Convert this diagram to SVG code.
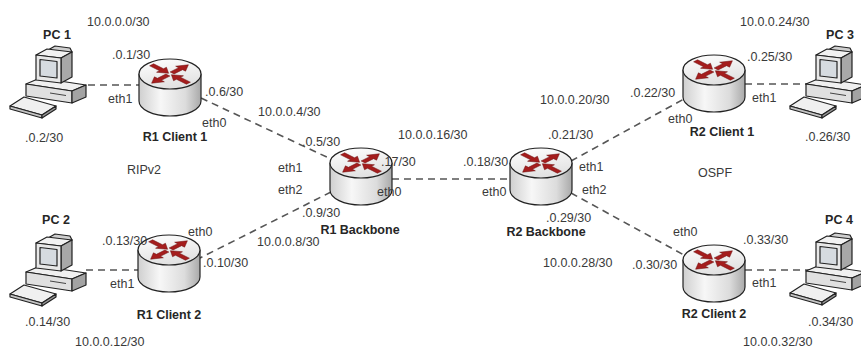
<svg xmlns="http://www.w3.org/2000/svg" xmlns:xlink="http://www.w3.org/1999/xlink" width="861" height="349" viewBox="0 0 861 349">
  <style>
    .lbl { font-family: "Liberation Sans", Arial, sans-serif; font-size: 12.5px; fill: #3a3a3a; }
    .name { font-family: "Liberation Sans", Arial, sans-serif; font-size: 12.5px; font-weight: bold; fill: #262626; }
    .link { stroke: #555; stroke-width: 1.6; stroke-dasharray: 7 5; fill: none; }
    .ol { stroke: #222; stroke-width: 1.2; stroke-linejoin: round; }
    .arrow { fill: #a51d1d; stroke: #6e1010; stroke-width: 0.6; }
  </style>
  <defs>
    <linearGradient id="bodyGrad" x1="0" y1="0" x2="1" y2="0">
      <stop offset="0" stop-color="#cfcfcf"/>
      <stop offset="0.35" stop-color="#f7f7f7"/>
      <stop offset="0.75" stop-color="#dcdcdc"/>
      <stop offset="1" stop-color="#a9a9a9"/>
    </linearGradient>
    <linearGradient id="topGrad" x1="0" y1="0" x2="0.3" y2="1">
      <stop offset="0" stop-color="#ffffff"/>
      <stop offset="1" stop-color="#e2e2e2"/>
    </linearGradient>

    <!-- router: cylinder with red arrows on the lid, origin at lid centre -->
    <g id="router">
      <path class="ol" d="M -31 0 L -31 27 A 31 15 0 0 0 31 27 L 31 0 Z" fill="url(#bodyGrad)"/>
      <ellipse class="ol" cx="0" cy="0" rx="31" ry="15" fill="url(#topGrad)"/>
      <g transform="scale(1,0.5)">
        <polygon class="arrow" transform="rotate(-45)" points="3,-2.8 15,-2.8 15,-7 26,0 15,7 15,2.8 3,2.8"/>
        <polygon class="arrow" transform="rotate(135)" points="3,-2.8 15,-2.8 15,-7 26,0 15,7 15,2.8 3,2.8"/>
        <polygon class="arrow" transform="rotate(-135)" points="2,0 12,-7 12,-2.8 26,-2.8 26,2.8 12,2.8 12,7"/>
        <polygon class="arrow" transform="rotate(45)" points="2,0 12,-7 12,-2.8 26,-2.8 26,2.8 12,2.8 12,7"/>
      </g>
    </g>

    <!-- desktop PC: case, monitor and keyboard -->
    <g id="pc">
      <polygon class="ol" points="26,84 40,78 86,85 72,91" fill="#f0f0f0"/>
      <polygon class="ol" points="26,84 72,91 72,103 26,96" fill="#e0e0e0"/>
      <polygon class="ol" points="72,91 86,85 86,97 72,103" fill="#a3a3a3"/>
      <line x1="50" y1="93" x2="66" y2="95.5" stroke="#444" stroke-width="1"/>
      <polygon class="ol" points="48,50 55,46 70,48 72,52 60,55" fill="#cfcfcf"/>
      <polygon class="ol" points="36,55 47,49 72,52 61,58" fill="#f2f2f2"/>
      <polygon class="ol" points="61,58 72,52 72,77 61,83" fill="#a8a8a8"/>
      <polygon class="ol" points="36,55 61,58 61,83 36,80" fill="#e8e8e8"/>
      <polygon class="ol" points="40,59.5 57,61.5 57,78 40,76" fill="#d6dbe0"/>
      <polygon class="ol" points="10,106 24,97 56,106 42,115" fill="#f0f0f0"/>
      <polygon class="ol" points="10,106 42,115 42,118 10,109" fill="#c4c4c4"/>
      <polygon class="ol" points="42,115 56,106 56,109 42,118" fill="#9a9a9a"/>
    </g>
  </defs>

  <rect width="861" height="349" fill="#ffffff"/>

  <!-- links -->
  <g id="connectors">
    <line class="link" x1="88" y1="85" x2="139" y2="85"/>
    <line class="link" x1="201" y1="98" x2="333" y2="160"/>
    <line class="link" x1="331" y1="192" x2="200" y2="258"/>
    <line class="link" x1="86" y1="270" x2="138" y2="270"/>
    <line class="link" x1="392" y1="179" x2="510" y2="179"/>
    <line class="link" x1="571" y1="161" x2="684" y2="99"/>
    <line class="link" x1="571" y1="193" x2="684" y2="255"/>
    <line class="link" x1="745" y1="84" x2="816" y2="84"/>
    <line class="link" x1="745" y1="270" x2="812" y2="270"/>
  </g>

  <!-- hosts -->
  <g id="pc1">
    <use xlink:href="#pc" href="#pc"/>
    <text class="name" x="57" y="39" text-anchor="middle">PC 1</text>
  </g>
  <g id="pc2">
    <use xlink:href="#pc" href="#pc" y="188"/>
    <text class="name" x="56" y="224" text-anchor="middle">PC 2</text>
  </g>
  <g id="pc3">
    <use xlink:href="#pc" href="#pc" x="780"/>
    <text class="name" x="840" y="39" text-anchor="middle">PC 3</text>
  </g>
  <g id="pc4">
    <use xlink:href="#pc" href="#pc" x="780" y="187"/>
    <text class="name" x="839" y="224" text-anchor="middle">PC 4</text>
  </g>

  <!-- routers -->
  <g id="r1-client1">
    <use xlink:href="#router" href="#router" transform="translate(170,74)"/>
    <text class="name" x="175" y="141" text-anchor="middle">R1 Client 1</text>
  </g>
  <g id="r1-client2">
    <use xlink:href="#router" href="#router" transform="translate(169,250)"/>
    <text class="name" x="169" y="319" text-anchor="middle">R1 Client 2</text>
  </g>
  <g id="r1-backbone">
    <use xlink:href="#router" href="#router" transform="translate(361,163)"/>
    <text class="name" x="360" y="234" text-anchor="middle">R1 Backbone</text>
  </g>
  <g id="r2-backbone">
    <use xlink:href="#router" href="#router" transform="translate(541,163)"/>
    <text class="name" x="546" y="236" text-anchor="middle">R2 Backbone</text>
  </g>
  <g id="r2-client1">
    <use xlink:href="#router" href="#router" transform="translate(714,70)"/>
    <text class="name" x="722" y="136" text-anchor="middle">R2 Client 1</text>
  </g>
  <g id="r2-client2">
    <use xlink:href="#router" href="#router" transform="translate(714,260)"/>
    <text class="name" x="714" y="318" text-anchor="middle">R2 Client 2</text>
  </g>

  <!-- addressing and interface labels -->
  <g id="labels">
    <text class="lbl" x="87" y="26">10.0.0.0/30</text>
    <text class="lbl" x="112" y="59">.0.1/30</text>
    <text class="lbl" x="108" y="103">eth1</text>
    <text class="lbl" x="205" y="96">.0.6/30</text>
    <text class="lbl" x="202" y="127">eth0</text>
    <text class="lbl" x="25" y="142">.0.2/30</text>
    <text class="lbl" x="127" y="174">RIPv2</text>
    <text class="lbl" x="258" y="116">10.0.0.4/30</text>
    <text class="lbl" x="302" y="146">.0.5/30</text>
    <text class="lbl" x="278" y="172">eth1</text>
    <text class="lbl" x="278" y="194">eth2</text>
    <text class="lbl" x="302" y="217">.0.9/30</text>
    <text class="lbl" x="257" y="246">10.0.0.8/30</text>
    <text class="lbl" x="188" y="236">eth0</text>
    <text class="lbl" x="102" y="245">.0.13/30</text>
    <text class="lbl" x="203" y="267">.0.10/30</text>
    <text class="lbl" x="110" y="288">eth1</text>
    <text class="lbl" x="25" y="326">.0.14/30</text>
    <text class="lbl" x="75" y="346">10.0.0.12/30</text>

    <text class="lbl" x="381" y="166">.17/30</text>
    <text class="lbl" x="377" y="196">eth0</text>
    <text class="lbl" x="398" y="139">10.0.0.16/30</text>
    <text class="lbl" x="463" y="166">.0.18/30</text>
    <text class="lbl" x="482" y="196">eth0</text>

    <text class="lbl" x="540" y="104">10.0.0.20/30</text>
    <text class="lbl" x="548" y="139">.0.21/30</text>
    <text class="lbl" x="579" y="171">eth1</text>
    <text class="lbl" x="582" y="194">eth2</text>
    <text class="lbl" x="546" y="222">.0.29/30</text>
    <text class="lbl" x="543" y="267">10.0.0.28/30</text>
    <text class="lbl" x="632" y="269">.0.30/30</text>
    <text class="lbl" x="673" y="236">eth0</text>

    <text class="lbl" x="740" y="26">10.0.0.24/30</text>
    <text class="lbl" x="747" y="61">.0.25/30</text>
    <text class="lbl" x="630" y="97">.0.22/30</text>
    <text class="lbl" x="752" y="102">eth1</text>
    <text class="lbl" x="668" y="123">eth0</text>
    <text class="lbl" x="805" y="141">.0.26/30</text>
    <text class="lbl" x="698" y="177">OSPF</text>

    <text class="lbl" x="743" y="244">.0.33/30</text>
    <text class="lbl" x="752" y="287">eth1</text>
    <text class="lbl" x="808" y="326">.0.34/30</text>
    <text class="lbl" x="743" y="346">10.0.0.32/30</text>
  </g>
</svg>
